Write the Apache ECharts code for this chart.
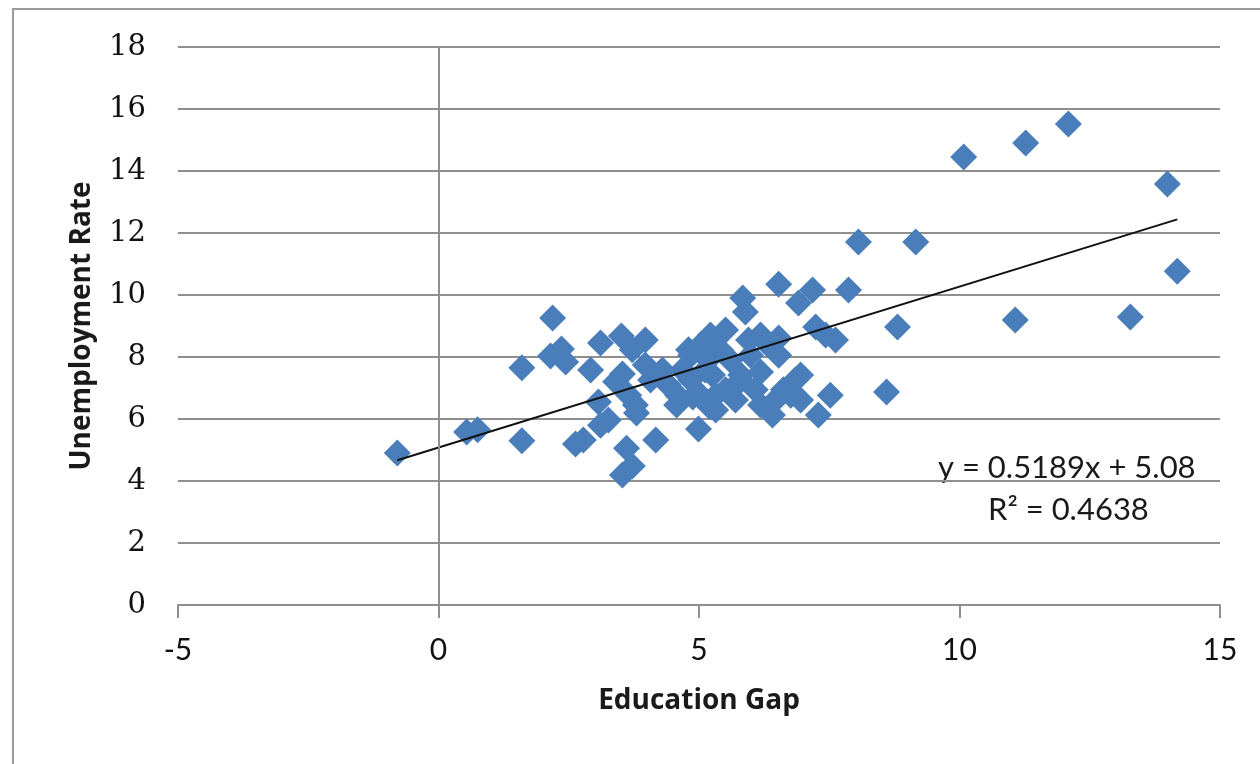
<!DOCTYPE html>
<html>
<head>
<meta charset="utf-8">
<script src="https://cdn.jsdelivr.net/npm/echarts@6/dist/echarts.min.js"></script>
<style>
  html,body{margin:0;padding:0;background:#fff;}
  #chart{width:1260px;height:764px;}
</style>
</head>
<body>
<div id="chart"></div>
<script>
// education gap vs unemployment rate
const gapX=[-0.79,0.54,0.75,1.6,1.6,2.19,2.15,2.36,2.44,2.63,2.78,2.92,3.11,3.07,3.11,3.26,3.51,3.53,3.53,3.61,
  3.72,3.72,3.78,3.65,3.97,3.8,4.07,4.17,4.3,4.41,4.57,4.59,4.68,4.8,4.84,4.88,4.99,5.03,5.18,5.22,
  5.26,5.32,5.41,5.51,5.6,5.7,5.8,5.84,5.89,5.95,5.99,6.08,6.18,6.33,6.41,6.47,6.53,6.53,6.53,6.62,
  6.76,6.85,6.91,6.95,7.18,7.24,7.29,7.43,7.52,7.62,7.87,8.06,8.6,8.81,9.16,10.08,11.07,11.27,12.09,13.28,
  13.99,14.18,
  3.97,3.4,5.03,5.2,5.6,5.8,5.32,6.18,6.95,5.12,4.84,5.51,6.18];
const rateY=[4.9,5.58,5.65,5.3,7.65,9.26,8.03,8.26,7.84,5.19,5.32,7.58,8.45,6.55,5.8,5.97,8.68,7.45,4.19,5.06,
  4.48,8.23,6.45,6.77,8.55,6.19,7.26,5.32,7.58,7.1,6.45,6.77,7.58,8.23,7.26,6.71,5.68,8.39,7.9,8.71,
  7.42,6.77,8.23,6.94,7.9,6.61,7.26,9.9,9.45,8.55,8.06,6.94,7.52,8.39,6.13,6.61,10.35,8.61,8.06,6.94,
  6.77,7.26,9.74,7.42,10.16,8.97,6.13,8.71,6.77,8.55,10.16,11.71,6.87,8.97,11.71,14.45,9.19,14.9,15.52,9.29,
  13.58,10.77,
  7.74,7.2,6.77,6.4,6.9,7.42,6.29,6.45,6.61,7.58,8.06,8.87,8.71];
// trendline ends (min x to max x)
const trendX=[-0.79,14.18];
const trendY=[4.67,12.44];
const xTicks=[-5,0,5,10,15];
const yTicks=[0,2,4,6,8,10,12,14,16,18];
const eqText='y = 0.5189x + 5.08';
const r2Text='R² = 0.4638';

const chart=echarts.init(document.getElementById('chart'));
const pts=gapX.map((x,i)=>[x,rateY[i]]);
const trend=trendX.map((x,i)=>[x,trendY[i]]);
const gray='#8f8f8f';

chart.setOption({
  animation:false,
  backgroundColor:'#fff',
  grid:{left:178,right:40,top:47,bottom:159},
  graphic:[
    {type:'rect',shape:{x:13,y:9,width:1270,height:780},style:{fill:'none',stroke:'#9a9a9a',lineWidth:2},silent:true},
    {type:'text',left:938,top:452,style:{text:eqText,font:'31px Lato',fill:'#1a1a1a'}},
    {type:'text',left:988,top:494,style:{text:r2Text,font:'31px Lato',fill:'#1a1a1a'}}
  ],
  xAxis:{
    type:'value',min:xTicks[0],max:xTicks[xTicks.length-1],interval:5,
    name:'Education Gap',nameLocation:'middle',nameGap:82,
    nameTextStyle:{fontFamily:'Open Sans',fontWeight:'bold',fontSize:28,color:'#1a1a1a'},
    axisLine:{onZero:false,lineStyle:{color:gray,width:2}},
    axisTick:{show:true,length:13,lineStyle:{color:gray,width:2}},
    axisLabel:{margin:30,fontFamily:'Lato',fontSize:30,color:'#111'},
    splitLine:{show:false}
  },
  yAxis:{
    type:'value',min:yTicks[0],max:yTicks[yTicks.length-1],interval:2,
    name:'Unemployment Rate',nameLocation:'middle',nameGap:82,
    nameTextStyle:{fontFamily:'Open Sans',fontWeight:'bold',fontSize:28,color:'#1a1a1a'},
    axisLine:{show:false},
    axisTick:{show:false},
    axisLabel:{margin:32,fontFamily:'DejaVu Serif',fontSize:29,color:'#111'},
    splitLine:{lineStyle:{color:gray,width:2}}
  },
  series:[
    {
      type:'scatter',
      data:pts,
      symbol:'diamond',
      symbolSize:27,
      itemStyle:{color:'#4a7ebb',opacity:1},
      markLine:{
        silent:true,symbol:'none',label:{show:false},
        lineStyle:{color:gray,width:2,type:'solid'},
        data:[{xAxis:0}]
      },
      z:3
    },
    {
      type:'line',
      data:trend,
      symbol:'none',
      lineStyle:{color:'#111',width:2},
      z:4
    }
  ]
});
</script>
</body>
</html>
